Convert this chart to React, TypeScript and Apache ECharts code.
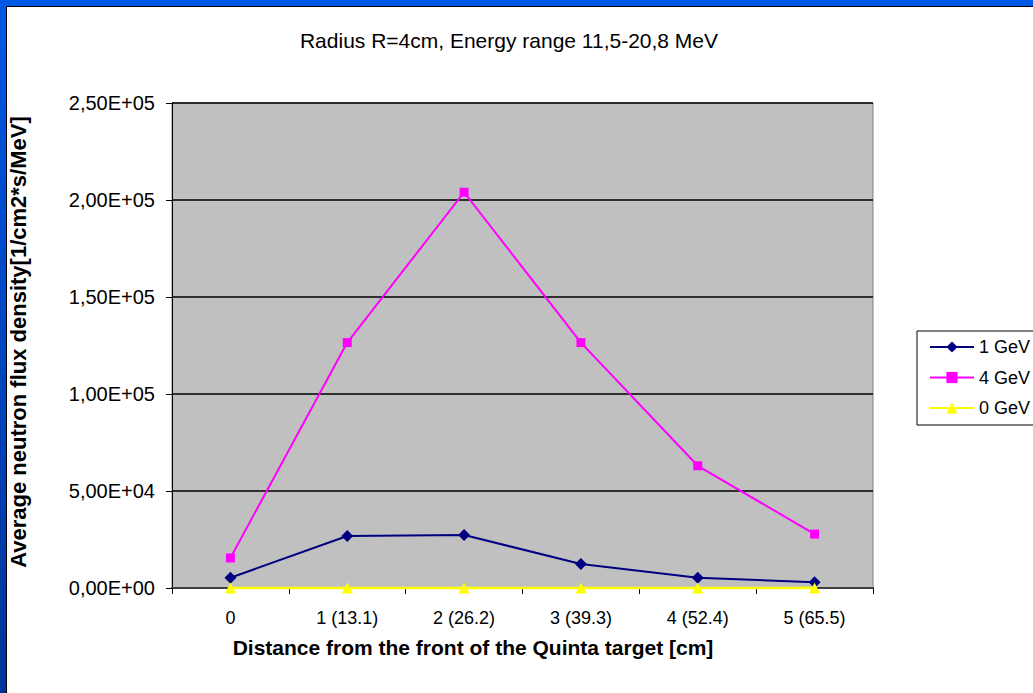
import React, { useEffect, useRef } from "react";
import * as echarts from "echarts";

// Category labels along the x axis: position index and distance in cm
const categories = ["0", "1 (13.1)", "2 (26.2)", "3 (39.3)", "4 (52.4)", "5 (65.5)"];

// Average neutron flux density per beam energy
const flux1GeV = [5300, 26800, 27300, 12400, 5300, 2900];
const flux4GeV = [15500, 126500, 204000, 126500, 63000, 27800];
const flux0GeV = [0, 0, 0, 0, 0, 0];

// Y axis range
const yMin = 0;
const yMax = 250000;
const yStep = 50000;

const FONT = "'Liberation Sans', Arial, sans-serif";

// Excel-style scientific notation with decimal comma: 2,50E+05
function sci(v: number): string {
  if (v === 0) return "0,00E+00";
  const e = Math.floor(Math.log10(Math.abs(v)));
  const m = v / Math.pow(10, e);
  return (
    m.toFixed(2).replace(".", ",") +
    "E" +
    (e < 0 ? "-" : "+") +
    String(Math.abs(e)).padStart(2, "0")
  );
}

export default function App() {
  const ref = useRef<HTMLDivElement>(null);

  useEffect(() => {
    if (!ref.current) return;
    const chart = echarts.init(ref.current, undefined, { renderer: "svg" });
    chart.setOption({
      animation: false,
      backgroundColor: "transparent",
      textStyle: { fontFamily: FONT },
      grid: {
        left: 172,
        top: 103,
        right: 160,
        bottom: 105,
        show: true,
        backgroundColor: "#C0C0C0",
        borderColor: "#808080",
        borderWidth: 1,
      },
      legend: {
        orient: "vertical",
        left: 917,
        top: 331,
        padding: [7, 12, 8, 12],
        itemWidth: 44,
        itemHeight: 14,
        itemGap: 12.5,
        backgroundColor: "#FFFFFF",
        borderColor: "#000000",
        borderWidth: 1,
        borderRadius: 0,
        textStyle: { fontSize: 18, color: "#000", fontFamily: FONT },
        data: ["1 GeV", "4 GeV", "0 GeV"],
      },
      xAxis: {
        type: "category",
        data: categories,
        boundaryGap: true,
        axisLine: { lineStyle: { color: "#404040", width: 2 } },
        axisTick: { show: true, length: 6, lineStyle: { color: "#000", width: 1 } },
        axisLabel: { fontSize: 18, color: "#000", margin: 21, fontFamily: FONT },
        splitLine: { show: false },
      },
      yAxis: {
        type: "value",
        min: yMin,
        max: yMax,
        interval: yStep,
        axisLine: { show: true, lineStyle: { color: "#000", width: 1 } },
        axisTick: { show: true, length: 6, lineStyle: { color: "#000", width: 1 } },
        axisLabel: {
          fontSize: 20,
          color: "#000",
          margin: 17,
          fontFamily: FONT,
          formatter: (v: number) => sci(v),
        },
        splitLine: { show: true, lineStyle: { color: "#000", width: 1.5 } },
      },
      graphic: [
        {
          type: "text",
          x: 509,
          y: 40,
          style: {
            text: "Radius R=4cm, Energy range 11,5-20,8 MeV",
            fill: "#000",
            font: `21px ${FONT}`,
            textAlign: "center",
            textVerticalAlign: "middle",
          },
        },
        {
          type: "text",
          x: 473,
          y: 647,
          style: {
            text: "Distance from the front of the Quinta target [cm]",
            fill: "#000",
            font: `bold 21px ${FONT}`,
            textAlign: "center",
            textVerticalAlign: "middle",
          },
        },
        {
          type: "text",
          x: 18,
          y: 342,
          rotation: Math.PI / 2,
          style: {
            text: "Average neutron flux density[1/cm2*s/MeV]",
            fill: "#000",
            font: `bold 22px ${FONT}`,
            textAlign: "center",
            textVerticalAlign: "middle",
          },
        },
      ],
      series: [
        {
          name: "1 GeV",
          type: "line",
          data: flux1GeV,
          symbol: "diamond",
          symbolSize: 12,
          clip: false,
          itemStyle: { color: "#000080" },
          lineStyle: { color: "#000080", width: 2 },
          z: 3,
        },
        {
          name: "4 GeV",
          type: "line",
          data: flux4GeV,
          symbol: "rect",
          symbolSize: 9,
          clip: false,
          itemStyle: { color: "#FF00FF" },
          lineStyle: { color: "#FF00FF", width: 2 },
          z: 3,
        },
        {
          name: "0 GeV",
          type: "line",
          data: flux0GeV,
          symbol: "triangle",
          symbolSize: 11,
          clip: false,
          itemStyle: { color: "#FFFF00" },
          lineStyle: { color: "#FFFF00", width: 2.5 },
          z: 4,
        },
      ],
    });
    return () => chart.dispose();
  }, []);

  return (
    <div
      style={{
        position: "fixed",
        left: 0,
        top: 0,
        width: 1033,
        height: 693,
        background: "linear-gradient(180deg, #0058E6 0%, #0046C0 50%, #00339A 100%)",
        overflow: "hidden",
      }}
    >
      <div
        style={{
          position: "absolute",
          left: 6,
          top: 6,
          right: 0,
          bottom: 0,
          background: "#FFFFFF",
          borderTop: "1px solid #000",
          borderLeft: "1px solid #000",
        }}
      />
      <div
        ref={ref}
        style={{ position: "absolute", left: 0, top: 0, width: 1033, height: 693 }}
      />
    </div>
  );
}
